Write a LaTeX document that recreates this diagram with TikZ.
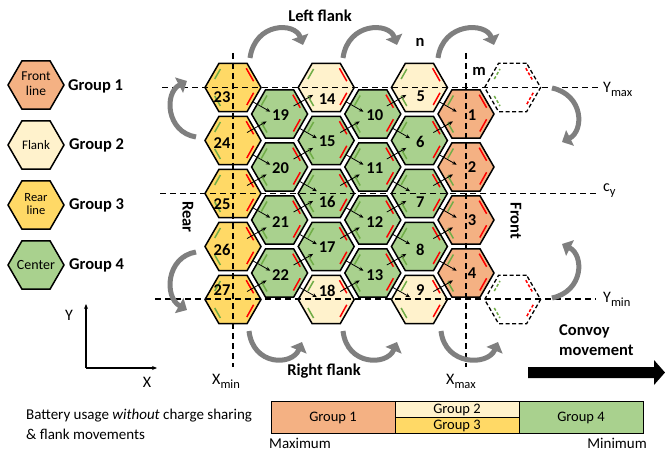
\documentclass[tikz,border=0pt]{standalone}
\usepackage{fontspec}
\setmainfont{Carlito}
\usetikzlibrary{shapes.geometric,arrows.meta,calc}

\definecolor{frontc}{HTML}{F4B183}
\definecolor{flankc}{HTML}{FFF2CC}
\definecolor{rearc}{HTML}{FFD966}
\definecolor{centerc}{HTML}{A9D18E}
\definecolor{stripered}{HTML}{FF0000}
\definecolor{stripegreen}{HTML}{70AD47}
\definecolor{turngray}{HTML}{7F7F7F}

\tikzset{
  hexcell/.style={regular polygon, regular polygon sides=6, minimum size=56pt,
    inner sep=0pt, outer sep=0pt, draw=black, line width=1.5pt},
  ghostcell/.style={regular polygon, regular polygon sides=6, minimum size=56pt,
    inner sep=0pt, outer sep=0pt, draw=black, line width=1.3pt, dash pattern=on 4pt off 2.5pt},
  numlbl/.style={font=\bfseries\fontsize{16.5}{18}\selectfont, inner sep=0pt},
  boldlbl/.style={font=\bfseries\fontsize{16.5}{20}\selectfont, inner sep=0pt},
  plainlbl/.style={font=\fontsize{15}{20}\selectfont, inner sep=0pt},
  hextxt/.style={font=\fontsize{13.5}{15}\selectfont, inner sep=0pt, align=center},
  guide/.style={line width=1.3pt, dash pattern=on 6pt off 4pt},
  redline/.style={stripered, line width=1.5pt},
  greenline/.style={stripegreen, line width=1.5pt},
  share/.style={line width=0.8pt, -{Stealth[length=4.5pt,width=3.8pt]}},
  turnarrow/.style={turngray, line width=5pt, -{Triangle[length=9pt,width=17pt]}},
  barcell/.style={draw=black, line width=0.7pt},
}

\begin{document}
\begin{tikzpicture}[x=1pt,y=-1pt]
\useasboundingbox (0,0) rectangle (665,452);

% ---------- legend ----------
\node[hexcell, fill=frontc] (lg1) at (36,85) {};
\node[hexcell, fill=flankc] (lg2) at (36,145) {};
\node[hexcell, fill=rearc] (lg3) at (36,205) {};
\node[hexcell, fill=centerc] (lg4) at (36,265) {};
\node[hextxt] (lt1) at (36,84) {Front\\line};
\node[hextxt, font=\fontsize{13}{14}\selectfont] (lt2) at (36,145) {Flank};
\node[hextxt, font=\fontsize{12.5}{13.5}\selectfont] (lt3) at (36,204) {Rear\\line};
\node[hextxt, font=\fontsize{14}{15}\selectfont] (lt4) at (36,265) {Center};
\node[boldlbl, anchor=west] (lg1t) at (68,86) {Group 1};
\node[boldlbl, anchor=west] (lg2t) at (69,145) {Group 2};
\node[boldlbl, anchor=west] (lg3t) at (69,205) {Group 3};
\node[boldlbl, anchor=west] (lg4t) at (69,265) {Group 4};

% ---------- axes ----------
\coordinate (ax0) at (86,368);
\coordinate (axy) at (86,304);
\coordinate (axx) at (157,368);
\draw[line width=1.3pt, -{Stealth[length=5pt,width=4pt]}] (ax0) -- (axy);
\draw[line width=1.3pt, -{Stealth[length=5pt,width=4pt]}] (ax0) -- (axx);
\node[plainlbl, font=\fontsize{16}{18}\selectfont] (ylab) at (69,315) {Y};
\node[plainlbl, font=\fontsize{16}{18}\selectfont] (xlab) at (147,382) {X};

% ---------- cells ----------
\foreach \n/\x/\y/\c in {
  23/233/87.5/rearc, 24/233/140.5/rearc, 25/233/193.5/rearc, 26/233/246.5/rearc, 27/233/299.5/rearc,
  19/279.6/114/centerc, 20/279.6/167/centerc, 21/279.6/220/centerc, 22/279.6/273/centerc,
  14/326.2/87.5/flankc, 15/326.2/140.5/centerc, 16/326.2/193.5/centerc, 17/326.2/246.5/centerc, 18/326.2/299.5/flankc,
  10/372.8/114/centerc, 11/372.8/167/centerc, 12/372.8/220/centerc, 13/372.8/273/centerc,
  5/419.4/87.5/flankc, 6/419.4/140.5/centerc, 7/419.4/193.5/centerc, 8/419.4/246.5/centerc, 9/419.4/299.5/flankc,
  1/466/114/frontc, 2/466/167/frontc, 3/466/220/frontc, 4/466/273/frontc}
  \node[hexcell, fill=\c] (h\n) at (\x,\y) {};

\node[ghostcell] (g1) at (512.6,87.5) {};
\node[ghostcell] (g2) at (512.6,299.5) {};

% coloured side marks: green = incoming sides, red = outgoing sides
\foreach \n in {1,...,27} {
  \begin{scope}[shift={(h\n.center)}]
    \draw[greenline] (-18.3,-8.5) -- (-12.6,-18.5);
    \draw[greenline] (-18.3,8.5) -- (-12.6,18.5);
    \draw[redline] (13.2,-19.3) -- (20.6,-6.3);
    \draw[redline] (20.6,5.3) -- (13.8,17.5);
  \end{scope}
}
\foreach \g in {g1,g2} {
  \begin{scope}[shift={(\g.center)}]
    \draw[greenline, dash pattern=on 3pt off 2pt] (-18.3,-8.5) -- (-12.6,-18.5);
    \draw[greenline, dash pattern=on 3pt off 2pt] (-18.3,8.5) -- (-12.6,18.5);
    \draw[redline, dash pattern=on 3pt off 2pt] (13.2,-19.3) -- (20.6,-6.3);
    \draw[redline, dash pattern=on 3pt off 2pt] (20.6,5.3) -- (13.8,17.5);
  \end{scope}
}

% charge-sharing arrows between neighbouring cells
\foreach \a/\b in {23/19, 24/20, 25/21, 26/22, 19/15, 20/16, 21/17, 22/18,
  14/10, 15/11, 16/12, 17/13, 10/6, 11/7, 12/8, 13/9, 5/1, 6/2, 7/3, 8/4}
  \draw[share] ($(h\a)!0.42!(h\b)+(0,3)$) -- ($(h\a)!0.8!(h\b)+(0,3)$);
\foreach \a/\b in {24/19, 25/20, 26/21, 27/22, 19/14, 20/15, 21/16, 22/17,
  15/10, 16/11, 17/12, 18/13, 10/5, 11/6, 12/7, 13/8, 6/1, 7/2, 8/3, 9/4}
  \draw[share] ($(h\a)!0.3!(h\b)$) -- ($(h\a)!0.72!(h\b)$);

% ---------- guide lines ----------
\coordinate (ymaxL) at (162,87.5);  \coordinate (ymaxR) at (598,87.5);
\coordinate (cyL) at (160,193.5);   \coordinate (cyR) at (596,193.5);
\coordinate (yminL) at (155,299);   \coordinate (yminR) at (596,299);
\coordinate (xminT) at (233,53);    \coordinate (xminB) at (233,367);
\coordinate (xmaxT) at (466,53);    \coordinate (xmaxB) at (466,367);
\draw[guide] (ymaxL) -- (ymaxR);
\draw[guide] (cyL) -- (cyR);
\draw[guide] (yminL) -- (yminR);
\draw[guide] (xminT) -- (xminB);
\draw[guide] (xmaxT) -- (xmaxB);

\node[inner sep=0pt, anchor=west] (ymaxlab) at (603,89) {\fontsize{16}{18}\selectfont Y\raisebox{-4pt}{\fontsize{12.5}{13}\selectfont max}};
\node[inner sep=0pt, anchor=west] (cylab) at (603,191) {\fontsize{16}{18}\selectfont c\raisebox{-4pt}{\fontsize{12.5}{13}\selectfont y}};
\node[inner sep=0pt, anchor=west] (yminlab) at (603,299) {\fontsize{16}{18}\selectfont Y\raisebox{-4pt}{\fontsize{12.5}{13}\selectfont min}};
\node[inner sep=0pt, anchor=west] (xminlab) at (212,381) {\fontsize{16}{18}\selectfont X\raisebox{-4pt}{\fontsize{12.5}{13}\selectfont min}};
\node[inner sep=0pt, anchor=west] (xmaxlab) at (446,381) {\fontsize{16}{18}\selectfont X\raisebox{-4pt}{\fontsize{12.5}{13}\selectfont max}};

% ---------- cell numbers ----------
\foreach \n/\dx/\dy in {23/-11/10, 24/-11/3, 25/-11/11, 26/-11/3, 27/-11/-9,
  19/1/1.5, 20/1/1.5, 21/1/2, 22/1/2,
  14/1/12, 15/1/1, 16/1/8, 17/1/1, 18/1/-9,
  10/2/1.5, 11/2/1.5, 12/2/2, 13/2/2,
  5/1.5/9, 6/1/1, 7/1/9, 8/1/3, 9/1/-9,
  1/6/1, 2/6/0, 3/6/0, 4/6/0}
  \node[numlbl] (t\n) at ($(h\n)+(\dx,\dy)$) {\n};

% ---------- annotations ----------
\node[boldlbl] (leftflank) at (320,16) {Left flank};
\node[boldlbl] (rightflank) at (324,371) {Right flank};
\node[boldlbl, rotate=-90] (rear) at (188,217) {Rear};
\node[boldlbl, rotate=-90] (front) at (516,221) {Front};
\node[boldlbl] (nlab) at (420,42) {n};
\node[boldlbl] (mlab) at (479,71) {m};

% flank movement arrows
\coordinate (lf1a) at (250,58); \coordinate (lf1b) at (303,45);
\coordinate (lf2a) at (343,58); \coordinate (lf2b) at (397,45);
\coordinate (lf3a) at (438,58); \coordinate (lf3b) at (494,45);
\draw[turnarrow] (lf1a) .. controls (255,22) and (295,22) .. (lf1b);
\draw[turnarrow] (lf2a) .. controls (348,22) and (389,22) .. (lf2b);
\draw[turnarrow] (lf3a) .. controls (443,22) and (486,22) .. (lf3b);

\coordinate (rf1a) at (249,331); \coordinate (rf1b) at (302,342);
\coordinate (rf2a) at (343,331); \coordinate (rf2b) at (397,342);
\coordinate (rf3a) at (441,331); \coordinate (rf3b) at (498,342);
\draw[turnarrow] (rf1a) .. controls (253,366) and (292,366) .. (rf1b);
\draw[turnarrow] (rf2a) .. controls (347,366) and (387,366) .. (rf2b);
\draw[turnarrow] (rf3a) .. controls (445,366) and (488,366) .. (rf3b);

% rotation arrows at the rear and the front
\coordinate (rt1a) at (196,137); \coordinate (rt1b) at (187,81);
\coordinate (rt2a) at (196,252); \coordinate (rt2b) at (187,310);
\draw[turnarrow] (rt1a) .. controls (166,132) and (164,93) .. (rt1b);
\draw[turnarrow] (rt2a) .. controls (166,257) and (164,297) .. (rt2b);
\coordinate (ft1a) at (552,88); \coordinate (ft1b) at (562,142);
\coordinate (ft2a) at (552,298); \coordinate (ft2b) at (562,244);
\draw[turnarrow] (ft1a) .. controls (584,95) and (584,131) .. (ft1b);
\draw[turnarrow] (ft2a) .. controls (584,291) and (584,255) .. (ft2b);

% convoy direction
\node[boldlbl, anchor=west, align=left] (convoy) at (559,340) {Convoy\\movement};
\fill[black] (528,367) -- (654,367) -- (654,360) -- (665,372.5) -- (654,385) -- (654,378) -- (528,378) -- cycle;

% ---------- battery usage bar ----------
\node[plainlbl, anchor=west, align=left] (battery) at (26,424) {Battery usage \textit{without} charge sharing\\\& flank movements};
\draw[barcell, fill=frontc] (271,401) rectangle (395,433);
\draw[barcell, fill=flankc] (395,401) rectangle (519,417.5);
\draw[barcell, fill=rearc] (395,417.5) rectangle (519,433);
\draw[barcell, fill=centerc] (519,401) rectangle (643,433);
\node[plainlbl, font=\fontsize{14.5}{16}\selectfont] (bg1) at (333,417.5) {Group 1};
\node[plainlbl, font=\fontsize{14.5}{16}\selectfont] (bg2) at (457,409.5) {Group 2};
\node[plainlbl, font=\fontsize{14.5}{16}\selectfont] (bg3) at (457,425.5) {Group 3};
\node[plainlbl, font=\fontsize{14.5}{16}\selectfont] (bg4) at (581,417.5) {Group 4};
\node[plainlbl, anchor=west] (maxlab) at (269,443) {Maximum};
\node[plainlbl, anchor=east] (minlab) at (647,443) {Minimum};
\end{tikzpicture}
\end{document}
